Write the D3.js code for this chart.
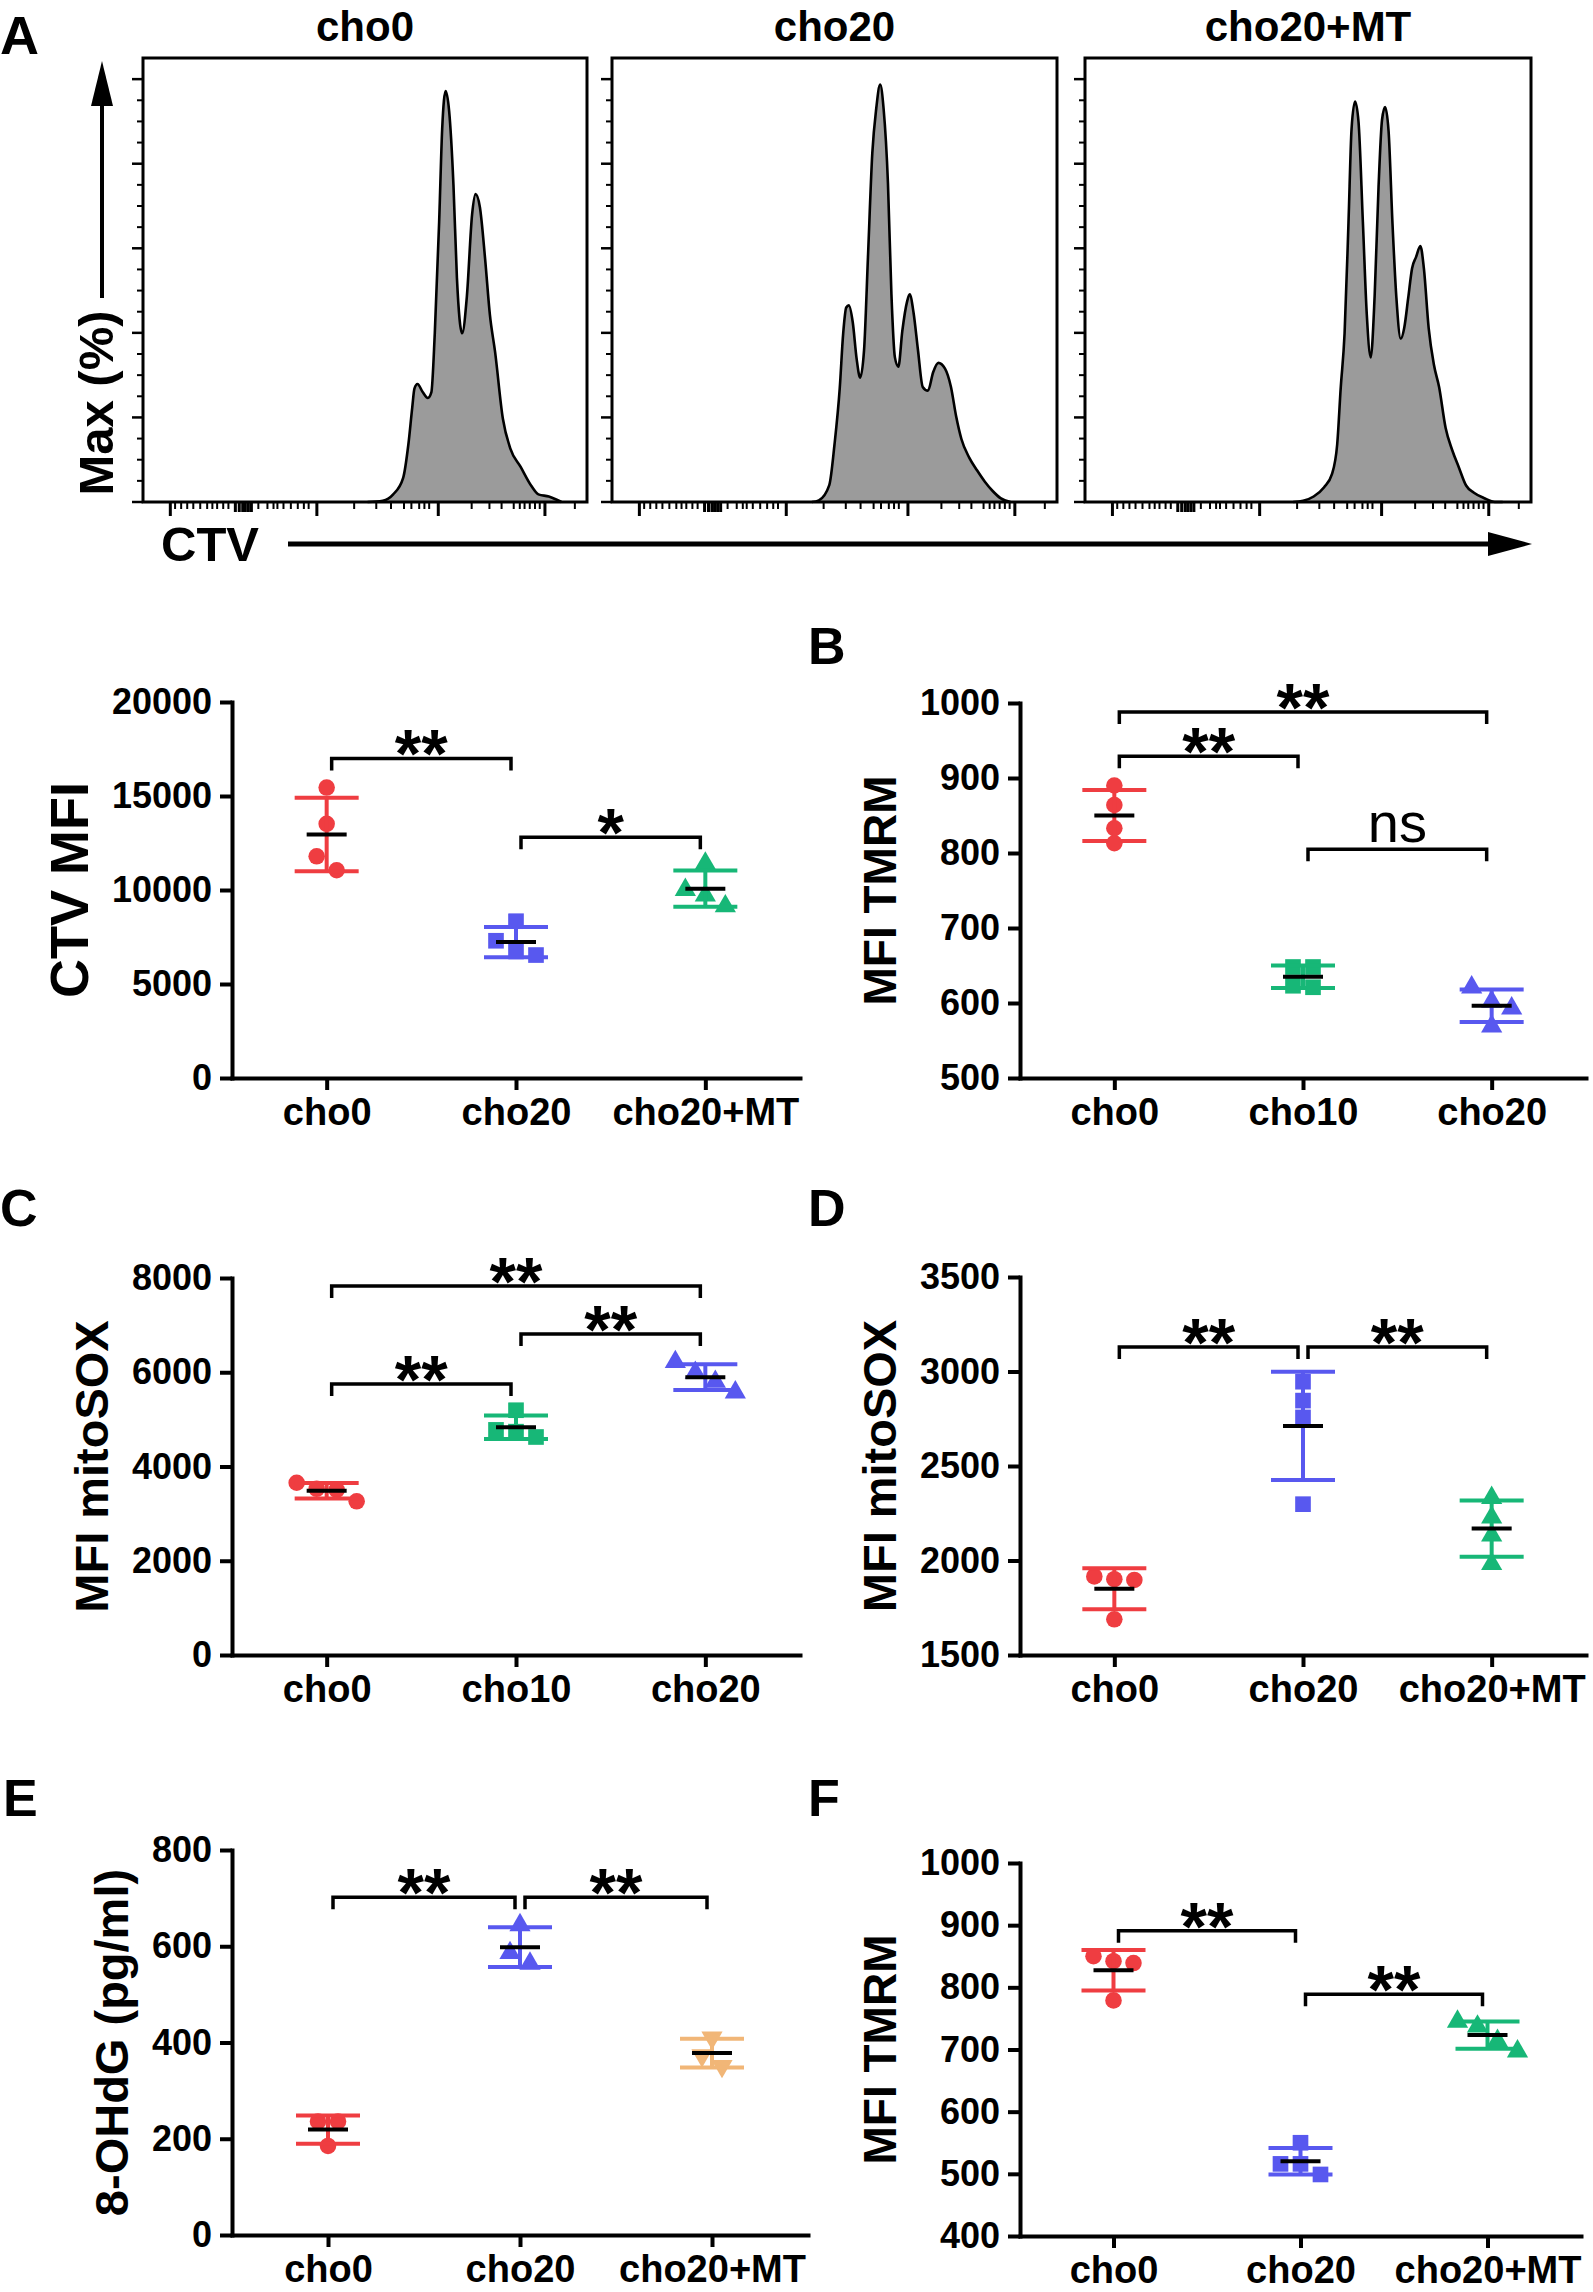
<!DOCTYPE html>
<html>
<head>
<meta charset="utf-8">
<script src="https://cdnjs.cloudflare.com/ajax/libs/d3/7.8.5/d3.min.js"></script>
<style>
  body { margin: 0; background: #fff; }
  svg text { font-family: "Liberation Sans", Arial, Helvetica, sans-serif; font-weight: bold; fill: #000; }
</style>
</head>
<body>
<svg id="fig" width="1593" height="2292"></svg>
<script>
// ---- histogram data (A): [display channel 0-1024, % of max] ----
var histTitles = ['cho0', 'cho20', 'cho20+MT'];
var histCho0 = [[518,0],[553,0.3],[577,1.8],[600,5.7],[612,13.6],[621,22.4],[626,26.8],[633,27.9],[645,26],[657,24.6],[665,25.9],
  [673,40],[683,66.2],[690,88.2],[698,97.2],[706,92.5],[716,75],[724,53],[736,39.9],[747,48.7],[759,68],[767,72.8],[777,69.7],
  [789,57.5],[800,44.3],[812,35.5],[830,19.7],[847,12.7],[871,8.3],[895,3.9],[912,1.8],[936,1.3],[953,0.6],[965,0]];
var histCho20 = [[460,0],[476,0.4],[500,4],[512,13.6],[524,26.8],[532,39.9],[539,46],[545,46.5],[554,42.5],[563,33.8],[571,29.4],
  [580,35.9],[589,57.9],[599,82.5],[608,93],[617,98.7],[625,93],[635,75.4],[643,49.1],[651,34.2],[659,32],[668,40.4],[679,47.4],
  [685,49.1],[694,44.7],[704,36],[715,27.2],[727,26.3],[739,30.7],[751,32.9],[766,31.6],[780,27.2],[792,20.2],[804,14.9],
  [822,10.5],[840,7.5],[858,4.8],[876,2.6],[894,0.9],[917,0]];
var histCho20MT = [[478,0],[501,0.3],[525,1.3],[549,3.5],[567,6.6],[579,13.6],[587,26.8],[596,39.9],[605,66.2],[612,88.2],[620,94.7],
  [628,89.9],[638,66.2],[647,44.3],[656,34.2],[665,48.7],[674,74.6],[682,90.4],[689,93.4],[697,87.7],[706,65.8],[715,48.2],
  [725,38.6],[733,41.2],[742,48.2],[751,55.3],[760,57.9],[770,60.5],[778,55.3],[789,41.2],[801,32.5],[813,27.2],[828,17.5],
  [843,12.3],[858,8.3],[875,3.9],[893,2.2],[917,0.9],[941,0],[959,0]];
var histMajorTicks = [63, 401, 681, 927];
var histZeroTicks = [213, 222, 230, 236, 243, 250];
var histMinorTicks = [74, 88, 102, 116, 132, 148, 160, 171, 185, 197, 266, 287, 301, 310, 324, 341, 357, 371, 382,
  487, 538, 572, 602, 619, 637, 649, 660, 758, 799, 827, 855, 869, 880, 892, 904, 915, 996];
var histPctMajor = [0, 20, 40, 60, 80, 100];
var histPctMinor = d3.range(5, 100, 5).filter(function(v) { return v % 20; });

// ---- scatter data ----
var ctvGroups = ['cho0', 'cho20', 'cho20+MT'];
var ctvValues = [[15450, 13520, 11790, 11050], [8340, 7300, 6540, 6730], [11410, 10010, 9710, 9140]];
var ctvTicks = [0, 5000, 10000, 15000, 20000];
var ctvSig = [['cho0', 'cho20', '**', 17000], ['cho20', 'cho20+MT', '*', 12800]];

var tmrmGroups = ['cho0', 'cho10', 'cho20'];
var tmrmValues = [[890, 864, 833, 813], [648, 648, 621, 623], [602, 621, 593, 569]];
var tmrmTicks = [500, 600, 700, 800, 900, 1000];
var tmrmSig = [['cho0', 'cho20', '**', 988], ['cho0', 'cho10', '**', 929], ['cho10', 'cho20', 'ns', 805]];

var soxGroups = ['cho0', 'cho10', 'cho20'];
var soxValues = [[3526, 3655, 3261, 3503], [5194, 4777, 4739, 4626], [6218, 5990, 5801, 5573]];
var soxTicks = [0, 2000, 4000, 6000, 8000];
var soxSig = [['cho0', 'cho20', '**', 7830], ['cho10', 'cho20', '**', 6810], ['cho0', 'cho10', '**', 5750]];

var soxMtGroups = ['cho0', 'cho20', 'cho20+MT'];
var soxMtValues = [[1901, 1897, 1916, 1689], [2946, 2846, 2757, 2298], [2332, 2228, 2133, 1982]];
var soxMtTicks = [1500, 2000, 2500, 3000, 3500];
var soxMtSig = [['cho0', 'cho20', '**', 3130], ['cho20', 'cho20+MT', '**', 3130]];

var ohdgGroups = ['cho0', 'cho20', 'cho20+MT'];
var ohdgValues = [[236, 236, 185], [644, 586, 564], [410, 373, 351]];
var ohdgTicks = [0, 200, 400, 600, 800];
var ohdgSig = [['cho0', 'cho20', '**', 702], ['cho20', 'cho20+MT', '**', 702]];

var tmrmMtGroups = ['cho0', 'cho20', 'cho20+MT'];
var tmrmMtValues = [[842, 839, 850, 779], [550, 516, 516, 499], [745, 737, 714, 697]];
var tmrmMtTicks = [400, 500, 600, 700, 800, 900, 1000];
var tmrmMtSig = [['cho0', 'cho20', '**', 891], ['cho20', 'cho20+MT', '**', 789]];

// ---- styles / layout ----
var RED = '#ef3d41', BLUE = '#5858ef', GREEN = '#17b777', ORANGE = '#f1b677';
var svg = d3.select('#fig');
svg.append('rect').attr('width', 1593).attr('height', 2292).attr('fill', '#fff');

function panelLetter(txt, x, y, size) {
  svg.append('text').attr('x', x).attr('y', y).attr('font-size', size).text(txt);
}

// ===== A: CTV histograms =====
var histFrames = [[143, 587], [612, 1057], [1085, 1531]];
var histData = [histCho0, histCho20, histCho20MT];
var hy = d3.scaleLinear().domain([0, 105]).range([502, 58]);

histData.forEach(function(data, i) {
  var f = histFrames[i];
  var hx = d3.scaleLinear().domain([0, 1024]).range(f);
  var g = svg.append('g');

  g.append('path')
    .datum(data)
    .attr('fill', '#9b9b9b')
    .attr('d', d3.area().curve(d3.curveMonotoneX)
      .x(function(d) { return hx(d[0]); })
      .y0(hy(0))
      .y1(function(d) { return hy(d[1]); }));
  g.append('path')
    .datum(data)
    .attr('fill', 'none')
    .attr('stroke', '#000')
    .attr('stroke-width', 2.6)
    .attr('stroke-linejoin', 'round')
    .attr('d', d3.line().curve(d3.curveMonotoneX)
      .x(function(d) { return hx(d[0]); })
      .y(function(d) { return hy(d[1]); }));

  g.append('rect')
    .attr('x', f[0]).attr('y', hy(105))
    .attr('width', f[1] - f[0]).attr('height', hy(0) - hy(105))
    .attr('fill', 'none').attr('stroke', '#000').attr('stroke-width', 3);

  // percent ticks (no labels)
  g.selectAll('.ymaj').data(histPctMajor).enter().append('line')
    .attr('x1', f[0] - 11).attr('x2', f[0])
    .attr('y1', hy).attr('y2', hy)
    .attr('stroke', '#000').attr('stroke-width', 2.5);
  g.selectAll('.ymin').data(histPctMinor).enter().append('line')
    .attr('x1', f[0] - 6).attr('x2', f[0])
    .attr('y1', hy).attr('y2', hy)
    .attr('stroke', '#000').attr('stroke-width', 2);

  // biexponential channel ticks
  var tickSets = [[histMajorTicks, 14, 3], [histZeroTicks, 10, 3], [histMinorTicks, 7, 2]];
  tickSets.forEach(function(t) {
    g.selectAll(null).data(t[0]).enter().append('line')
      .attr('x1', hx).attr('x2', hx)
      .attr('y1', hy(0)).attr('y2', hy(0) + t[1])
      .attr('stroke', '#000').attr('stroke-width', t[2]);
  });

  svg.append('text')
    .attr('x', (f[0] + f[1]) / 2).attr('y', 41)
    .attr('text-anchor', 'middle').attr('font-size', 42)
    .text(histTitles[i]);
});

panelLetter('A', 0, 54, 54);

// y arrow + Max (%)
svg.append('line').attr('x1', 102).attr('x2', 102).attr('y1', 298).attr('y2', 100)
  .attr('stroke', '#000').attr('stroke-width', 4);
svg.append('path').attr('d', 'M102,61L91,106L113,106Z').attr('fill', '#000');
svg.append('text')
  .attr('transform', 'translate(113,403) rotate(-90)')
  .attr('text-anchor', 'middle').attr('font-size', 49)
  .text('Max (%)');

// x arrow + CTV
svg.append('text').attr('x', 161).attr('y', 561).attr('font-size', 49).text('CTV');
svg.append('line').attr('x1', 288).attr('x2', 1495).attr('y1', 544).attr('y2', 544)
  .attr('stroke', '#000').attr('stroke-width', 5);
svg.append('path').attr('d', 'M1532,544L1488,532L1488,556Z').attr('fill', '#000');

// ===== scatter / mean ± SD panels =====
var scatterPanels = [
  { groups: ctvGroups, values: ctvValues, ticks: ctvTicks, sig: ctvSig, title: 'CTV MFI', titleSize: 54,
    x0: 232, x1: 800, top: 702, bottom: 1078, colors: [RED, BLUE, GREEN], shapes: ['circle', 'square', 'triangle'] },
  { letter: 'B', lx: 808, ly: 664, groups: tmrmGroups, values: tmrmValues, ticks: tmrmTicks, sig: tmrmSig,
    title: 'MFI TMRM', titleSize: 46, x0: 1020, x1: 1586, top: 703, bottom: 1078,
    colors: [RED, GREEN, BLUE], shapes: ['circle', 'square', 'triangle'] },
  { letter: 'C', lx: 0, ly: 1226, groups: soxGroups, values: soxValues, ticks: soxTicks, sig: soxSig,
    title: 'MFI mitoSOX', titleSize: 47, x0: 232, x1: 800, top: 1278, bottom: 1655,
    colors: [RED, GREEN, BLUE], shapes: ['circle', 'square', 'triangle'] },
  { letter: 'D', lx: 808, ly: 1226, groups: soxMtGroups, values: soxMtValues, ticks: soxMtTicks, sig: soxMtSig,
    title: 'MFI mitoSOX', titleSize: 47, x0: 1020, x1: 1586, top: 1277, bottom: 1655,
    colors: [RED, BLUE, GREEN], shapes: ['circle', 'square', 'triangle'] },
  { letter: 'E', lx: 3, ly: 1816, groups: ohdgGroups, values: ohdgValues, ticks: ohdgTicks, sig: ohdgSig,
    title: '8-OHdG (pg/ml)', titleSize: 47, x0: 232, x1: 808, top: 1850, bottom: 2235,
    colors: [RED, BLUE, ORANGE], shapes: ['circle', 'triangle', 'triangleDown'] },
  { letter: 'F', lx: 808, ly: 1816, groups: tmrmMtGroups, values: tmrmMtValues, ticks: tmrmMtTicks, sig: tmrmMtSig,
    title: 'MFI TMRM', titleSize: 46, x0: 1020, x1: 1581, top: 1863, bottom: 2236,
    colors: [RED, BLUE, GREEN], shapes: ['circle', 'square', 'triangle'] }
];

var symbols = {
  circle: d3.symbol().type(d3.symbolCircle).size(215),
  square: d3.symbol().type(d3.symbolSquare).size(245),
  triangle: d3.symbol().type(d3.symbolTriangle).size(195),
  triangleDown: d3.symbol().type(d3.symbolTriangle).size(195)
};

// spread overlapping points sideways, centred on the column
function dodge(vals, y, gap, step) {
  var order = d3.range(vals.length).sort(function(a, b) { return vals[b] - vals[a]; });
  var offs = vals.map(function() { return 0; });
  var clusters = [], cur = [];
  order.forEach(function(i, k) {
    if (k && Math.abs(y(vals[i]) - y(vals[order[k - 1]])) >= gap) { clusters.push(cur); cur = []; }
    cur.push(i);
  });
  clusters.push(cur);
  clusters.forEach(function(c) {
    c.forEach(function(i, j) { offs[i] = (j - (c.length - 1) / 2) * step; });
  });
  return offs;
}

scatterPanels.forEach(function(p) {
  var g = svg.append('g');
  var x = d3.scalePoint().domain(p.groups).range([p.x0, p.x1]).padding(0.5);
  var y = d3.scaleLinear().domain(d3.extent(p.ticks)).range([p.bottom, p.top]);

  var yAx = g.append('g')
    .attr('transform', 'translate(' + p.x0 + ',0)')
    .call(d3.axisLeft(y).tickValues(p.ticks).tickSize(12).tickSizeOuter(0).tickPadding(8).tickFormat(d3.format('d')));
  yAx.selectAll('text').attr('font-size', 36).attr('font-family', null);

  var xAx = g.append('g')
    .attr('transform', 'translate(0,' + p.bottom + ')')
    .call(d3.axisBottom(x).tickSize(12).tickSizeOuter(0).tickPadding(8));
  xAx.selectAll('text').attr('font-size', 38).attr('font-family', null);

  g.selectAll('.domain').attr('stroke-width', 4).attr('stroke-linecap', 'square');
  g.selectAll('.tick line').attr('stroke-width', 4);

  // axis title, parked left of widest tick label
  var widest = d3.max(yAx.selectAll('text').nodes(), function(n) { return n.getComputedTextLength(); });
  g.append('text')
    .attr('transform', 'translate(' + (p.x0 - 20 - widest - 24) + ',' + (p.top + p.bottom) / 2 + ') rotate(-90)')
    .attr('text-anchor', 'middle').attr('font-size', p.titleSize)
    .text(p.title);

  p.groups.forEach(function(grp, gi) {
    var vals = p.values[gi];
    var mean = d3.mean(vals), sd = d3.deviation(vals);
    var cx = x(grp), col = p.colors[gi];
    var offs = dodge(vals, y, 15, 20);

    g.selectAll(null).data(vals).enter().append('path')
      .attr('d', symbols[p.shapes[gi]])
      .attr('transform', function(v, i) {
        return 'translate(' + (cx + offs[i]) + ',' + y(v) + ')' + (p.shapes[gi] === 'triangleDown' ? ' rotate(180)' : '');
      })
      .attr('fill', col);

    var eb = g.append('g').attr('stroke', col).attr('stroke-width', 4);
    eb.append('line').attr('x1', cx).attr('x2', cx).attr('y1', y(mean + sd)).attr('y2', y(mean - sd));
    [mean + sd, mean - sd].forEach(function(v) {
      eb.append('line').attr('x1', cx - 32).attr('x2', cx + 32).attr('y1', y(v)).attr('y2', y(v));
    });
    g.append('line').attr('x1', cx - 20).attr('x2', cx + 20).attr('y1', y(mean)).attr('y2', y(mean))
      .attr('stroke', '#000').attr('stroke-width', 4);
  });

  // significance brackets
  p.sig.forEach(function(s) {
    var xa = x(s[0]) + 5, xb = x(s[1]) - 5, yb = y(s[3]);
    g.append('path')
      .attr('d', 'M' + xa + ',' + (yb + 12) + 'V' + yb + 'H' + xb + 'V' + (yb + 12))
      .attr('fill', 'none').attr('stroke', '#000').attr('stroke-width', 3.5);
    var ns = s[2] === 'ns';
    g.append('text')
      .attr('x', (xa + xb) / 2)
      .attr('y', ns ? yb - 7 : yb + 19)
      .attr('text-anchor', 'middle')
      .attr('font-size', ns ? 56 : 68)
      .style('font-weight', ns ? 'normal' : 'bold')
      .text(s[2]);
  });

  if (p.letter) panelLetter(p.letter, p.lx, p.ly, 52);
});
</script>
</body>
</html>
